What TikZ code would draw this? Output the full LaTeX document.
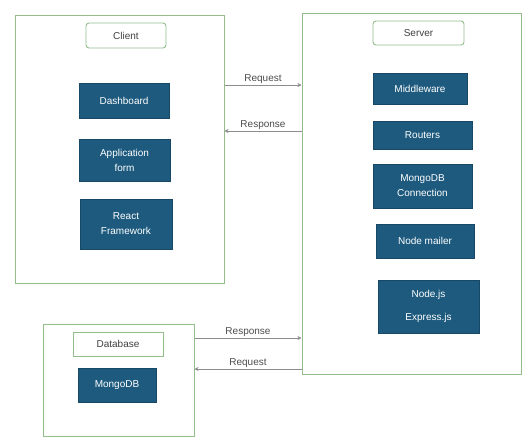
\documentclass[tikz,border=0pt]{standalone}
\usepackage{fontspec}
\setmainfont{Liberation Sans}
\usepackage{tikz}
\usetikzlibrary{arrows.meta,positioning}
\definecolor{boxblue}{HTML}{1D5A7E}
\definecolor{framegreen}{HTML}{93BE8C}
\definecolor{linkgray}{HTML}{8A8F8C}
\tikzset{
    frame/.style={draw=framegreen, line width=1pt, fill=white},
    title/.style={draw=framegreen, line width=0.9pt, fill=white, text=black!75, font=\fontsize{10}{12}\selectfont},
    part/.style={fill=boxblue, draw=boxblue!80!black, text=white, align=center, font=\fontsize{10}{15}\selectfont},
    link/.style={draw=linkgray, line width=0.6pt, -{Stealth[length=4pt, width=4pt]}},
    tag/.style={midway, above, inner sep=1.5pt, text=black!70, font=\fontsize{10}{12}\selectfont}
}
\begin{document}
\begin{tikzpicture}[x=1pt, y=-1pt]
    \useasboundingbox (0,0) rectangle (525,437);
    % Frames
    \node[frame, minimum width=209pt, minimum height=268pt] (client) at (119.5,149) {};
    \node[frame, minimum width=219pt, minimum height=361pt] (server) at (411.5,193.5) {};
    \node[frame, minimum width=151pt, minimum height=112pt] (database) at (118.5,380) {};

    % Titles
    \node[title, rounded corners=3pt, minimum width=80pt, minimum height=25pt] (clienttitle) at (126,35.5) {Client};
    \node[title, rounded corners=3pt, minimum width=91pt, minimum height=24pt] (servertitle) at (418.5,33) {Server};
    \node[title, minimum width=90pt, minimum height=24pt] (dbtitle) at (118,344) {Database};

    % Parts
    \node[part, minimum width=90pt, minimum height=35pt] (dashboard) at (124,100.5) {Dashboard};
    \node[part, minimum width=91pt, minimum height=42pt] (appform) at (124.5,160) {Application\\form};
    \node[part, minimum width=92pt, minimum height=50pt] (react) at (126,224) {React\\Framework};
    \node[part, minimum width=94pt, minimum height=31pt] (middleware) at (420,88.5) {Middleware};
    \node[part, minimum width=99pt, minimum height=28pt] (routers) at (422.5,135) {Routers};
    \node[part, minimum width=99pt, minimum height=44pt] (mongoconn) at (422.5,186) {MongoDB\\Connection};
    \node[part, minimum width=98pt, minimum height=34pt] (mailer) at (425,241) {Node mailer};
    \node[part, minimum width=101pt, minimum height=53pt] (nodejs) at (428.5,306.5) {Node.js\\[8pt]Express.js};
    \node[part, minimum width=78pt, minimum height=34pt] (mongodb) at (117,385) {MongoDB};

    % edges
    \coordinate (req) at (0,85);
    \coordinate (res) at (0,131);
    \coordinate (dbres) at (0,338);
    \coordinate (dbreq) at (0,369);
    \draw[link] (client.east |- req) -- node[tag] {Request} (server.west |- req);
    \draw[link] (server.west |- res) -- node[tag] {Response} (client.east |- res);
    \draw[link] (database.east |- dbres) -- node[tag] {Response} (server.west |- dbres);
    \draw[link] (server.west |- dbreq) -- node[tag] {Request} (database.east |- dbreq);
\end{tikzpicture}
\end{document}
